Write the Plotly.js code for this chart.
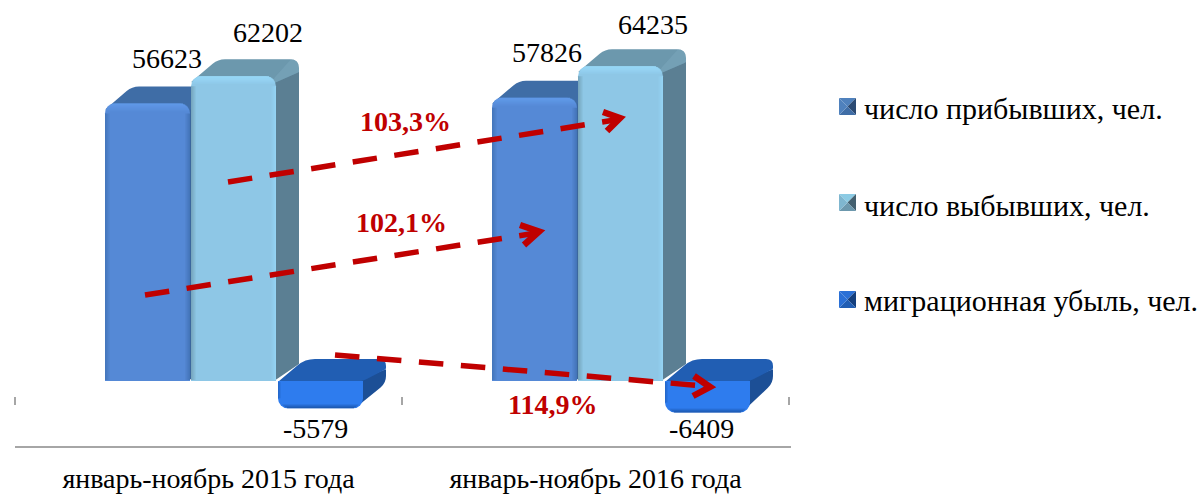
<!DOCTYPE html>
<html><head><meta charset="utf-8">
<script src="https://cdn.plot.ly/plotly-3.0.1.min.js"></script>
<style>html,body{margin:0;padding:0;background:#fff;overflow:hidden}#c{width:1203px;height:495px}</style>
</head><body><div id="c"></div>
<script>
// ---- data ----
const categories = ['январь-ноябрь 2015 года', 'январь-ноябрь 2016 года'];
const seriesNames = ['число прибывших, чел.', 'число выбывших, чел.', 'миграционная убыль, чел.'];
const arrivals = [56623, 57826];
const departures = [62202, 64235];
const migrationLoss = [-5579, -6409];
const growthLabels = ['103,3%', '102,1%', '114,9%'];

// ---- styles / layout helpers ----
const W = 1203, H = 495, plotBottom = 450, zeroPx = 381, pxPerUnit = 0.0049;
const catStep = 387, cat0Px = 208.5;
const X = px => (px - cat0Px) / catStep;
const Yd = py => (zeroPx - py) / pxPerUnit;
const Ypx = v => zeroPx - v * pxPerUnit;
const xRange = [X(0), X(W)], yRange = [Yd(plotBottom), Yd(0)];
const barW = 85, depthX = 23;
const depthYs = [17, 17, 22];
const leftOffsets = [-103.5, -17.5, 69.5];
const FONT = '"Liberation Serif", "Times New Roman", serif';
const RED = '#C00000';
const palette = [
  {front:'#5589D6', top:'#3F6DA6', side:'#3B679E', hi:'#64A0EE', edgeL:'#3F6FB0', edgeR:'#3D6CAD', sw:['#3F6DA6','#2B4A73','#4F81BD','#4F81BD']},
  {front:'#8EC7E6', top:'#6C98AD', side:'#5B7F93', hi:'#9ADDFC', edgeL:'#6D9AAE', edgeR:'#97D8F8', sw:['#6C98AD','#44606F','#7FB6CF','#8CCBE4']},
  {front:'#2E7CEE', top:'#215EB3', side:'#1C4F96', hi:'#3488F8', edgeL:'#2262BC', edgeR:'#2F80F4', sw:['#215EB3','#143F7E','#2A70D6','#2A70D6']}
];
const seriesValues = [arrivals, departures, migrationLoss];
const frontRadius = 10;

const shapes = [];
const path = (pts) => 'M' + pts.map(p => X(p[0]) + ',' + Yd(p[1])).join('L') + 'Z';
function roundPoly(pts, r){
  let d = '';
  const n = pts.length;
  pts.forEach((p,i)=>{
    const a = pts[(i-1+n)%n], b = pts[(i+1)%n];
    const la = Math.hypot(a[0]-p[0],a[1]-p[1]), lb = Math.hypot(b[0]-p[0],b[1]-p[1]);
    const ra = r[i]/la, rb = r[i]/lb;
    const s = [p[0]+(a[0]-p[0])*ra, p[1]+(a[1]-p[1])*ra];
    const e = [p[0]+(b[0]-p[0])*rb, p[1]+(b[1]-p[1])*rb];
    d += (i===0?'M':'L') + X(s[0])+','+Yd(s[1]) + 'Q'+X(p[0])+','+Yd(p[1])+' '+X(e[0])+','+Yd(e[1]);
  });
  return d + 'Z';
}
const fill = (d, color, layer, op) => shapes.push({type:'path', path:d, fillcolor:color, line:{width:0}, layer:layer||'below', opacity:op===undefined?1:op, xref:'x', yref:'y'});
const rectPx = (x0,y0,x1,y1,color,op) => shapes.push({type:'rect', x0:X(x0), x1:X(x1), y0:Yd(y0), y1:Yd(y1), fillcolor:color, opacity:op, line:{width:0}, layer:'above', xref:'x', yref:'y'});

// 3-D depth faces, drawn behind the front faces
categories.forEach((c,ci)=>{
  seriesValues.forEach((vals,si)=>{
    const v = vals[ci], p = palette[si], dy = depthYs[si];
    const xL = cat0Px + ci*catStep + leftOffsets[si], xR = xL + barW;
    const yT = Ypx(Math.max(v,0)), yB = Ypx(Math.min(v,0));
    if(v>0){
      fill(path([[xR-2,yT+6],[xR+depthX,yT-5],[xR+depthX,yB-dy],[xR-2,yB]]), p.side);
      fill(roundPoly([[xL,yT+6],[xL+27,yT-dy],[xR+depthX,yT-dy],[xR+depthX,yT-4],[xR-2,yT+7]],[1,7,9,1,1]), p.top);
      if(si===1) fill(roundPoly([[xR-2,yT+2],[xR+depthX-8,yT-dy],[xR+depthX,yT-dy],[xR+depthX,yT-4],[xR-2,yT+7]],[1,1,9,1,1]), '#7BA8BE', 'below', .5);
    } else {
      const yBot = yB - 1;
      fill(roundPoly([[xR-6,yT],[xR+depthX,yT-12],[xR+depthX,yT+2],[xR-7,yBot]],[1,1,7,7]), p.side);
      fill(roundPoly([[xL,yT+1],[xL+27,yT-dy],[xR+depthX,yT-dy],[xR+depthX,yT-12],[xR-2,yT+1]],[1,10,7,1,6]), p.top);
    }
  });
});

// soft edges on the front faces
categories.forEach((c,ci)=>{
  seriesValues.forEach((vals,si)=>{
    const v = vals[ci], p = palette[si];
    const xL = cat0Px + ci*catStep + leftOffsets[si], xR = xL + barW;
    const yT = Ypx(Math.max(v,0)), yB = Ypx(Math.min(v,0));
    const s = frontRadius;
    const inset = i => i >= s ? 0 : s - Math.sqrt(s*s - (s-i-0.5)*(s-i-0.5));
    if(v>0){
      for(let i=0;i<5;i++){
        rectPx(xL+i, yT+s, xL+i+1, yB-1, p.edgeL, .7-.14*i);
        rectPx(xR-i-1, yT+s, xR-i, yB-1, p.edgeR, .7-.14*i);
      }
      for(let i=0;i<8;i++){
        rectPx(xL+inset(i), yT+i, xR-inset(i), yT+i+1, p.hi, .9-.11*i);
      }
    } else {
      for(let i=0;i<4;i++){
        rectPx(xL+s+inset(i)-s+2, yB-i-1, xR-inset(i)-2, yB-i, '#164A96', .8-.2*i);
      }
      for(let i=0;i<3;i++){
        rectPx(xL+i, yT+1, xL+i+1, yB-s, '#1E5BB4', .6-.2*i);
      }
    }
  });
});

// axis floor and small ticks
shapes.push({type:'line', x0:X(15), x1:X(791), y0:Yd(447), y1:Yd(447), line:{color:'#A6A6A6', width:2}, layer:'above'});
[-0.5,0.5,1.5].forEach(t=>shapes.push({type:'line', x0:t, x1:t, y0:Yd(397), y1:Yd(405), line:{color:'#A6A6A6', width:2}, layer:'above'}));

// growth arrows
const arrows = [
  {from:[228,182], to:[618,119.5], head:[[603,112],[620,118],[607,131]]},
  {from:[145,295], to:[536,233], head:[[520,225],[539,231.5],[524,245]]},
  {from:[335,355], to:[705,386], head:[[694,376],[710,387],[693,396]]}
];
arrows.forEach(a=>{
  shapes.push({type:'line', x0:X(a.from[0]), y0:Yd(a.from[1]), x1:X(a.to[0]), y1:Yd(a.to[1]), line:{color:RED, width:5.5, dash:'24.5px,17.6px'}, layer:'above'});
  shapes.push({type:'path', path:'M'+a.head.map(p=>X(p[0])+','+Yd(p[1])).join('L'), line:{color:RED, width:6.5}, fillcolor:'rgba(0,0,0,0)', layer:'above'});
});

// legend keys (bevelled squares)
const legendRows = [108, 205, 300], swatchTops = [98, 194, 291], swL = 839, swS = 17;
swatchTops.forEach((t,i)=>{
  const b = t+swS, l = swL, r = swL+swS, cx = l+swS/2, cy = t+swS/2, sw = palette[i].sw;
  const tri = (pts,col)=>shapes.push({type:'path', path:path(pts), fillcolor:col, line:{width:0}, layer:'above'});
  tri([[l,t],[r,t],[cx,cy]], sw[3]);
  tri([[r,t],[r,b],[cx,cy]], sw[1]);
  tri([[l,b],[r,b],[cx,cy]], sw[0]);
  tri([[l,t],[l,b],[cx,cy]], sw[2]);
});

// ---- annotations ----
const annotations = [];
const txt = (px,py,text,size,color,bold,anchor)=>annotations.push({x:X(px), y:Yd(py), xref:'x', yref:'y', text:bold?'<b>'+text+'</b>':text, showarrow:false, xanchor:anchor||'center', yanchor:'middle', font:{family:FONT, size:size, color:color}});
const valueLabelDx = [[19,34,-5],[12,32,-6]];
const valueLabelDy = [[-45,-44,20],[-45,-42,16]];
categories.forEach((c,ci)=>seriesValues.forEach((vals,si)=>{
  const v = vals[ci];
  const xL = cat0Px + ci*catStep + leftOffsets[si];
  txt(xL + barW/2 + valueLabelDx[ci][si], Ypx(v) + valueLabelDy[ci][si], String(v), 28, '#000');
}));
txt(405,121,growthLabels[0],28,RED,true);
txt(401,222,growthLabels[1],28,RED,true);
txt(552,404,growthLabels[2],28,RED,true);
seriesNames.forEach((n,i)=>txt(862,legendRows[i],n,30,'#000',false,'left'));

// ---- traces ----
const traces = seriesValues.map((vals,si)=>({
  type:'bar', name:seriesNames[si], x:[0,1], y:vals,
  width:barW/catStep, offset:leftOffsets[si]/catStep,
  marker:{color:palette[si].front, cornerradius:frontRadius, line:{width:0}},
  showlegend:false, hoverinfo:'x+y', cliponaxis:false
}));

Plotly.newPlot('c', traces, {
  width:W, height:H, margin:{l:0,r:0,t:0,b:H-plotBottom,pad:0},
  paper_bgcolor:'#fff', plot_bgcolor:'rgba(0,0,0,0)', barmode:'overlay', showlegend:false,
  xaxis:{range:xRange, tickmode:'array', tickvals:[0,1], ticktext:categories, showgrid:false, zeroline:false, showline:false, ticks:'', ticklabelstandoff:9, tickfont:{family:FONT,size:28,color:'#000'}, fixedrange:true},
  yaxis:{range:yRange, visible:false, showgrid:false, zeroline:false, fixedrange:true},
  shapes:shapes, annotations:annotations
}, {displayModeBar:false, staticPlot:true});
</script></body></html>
